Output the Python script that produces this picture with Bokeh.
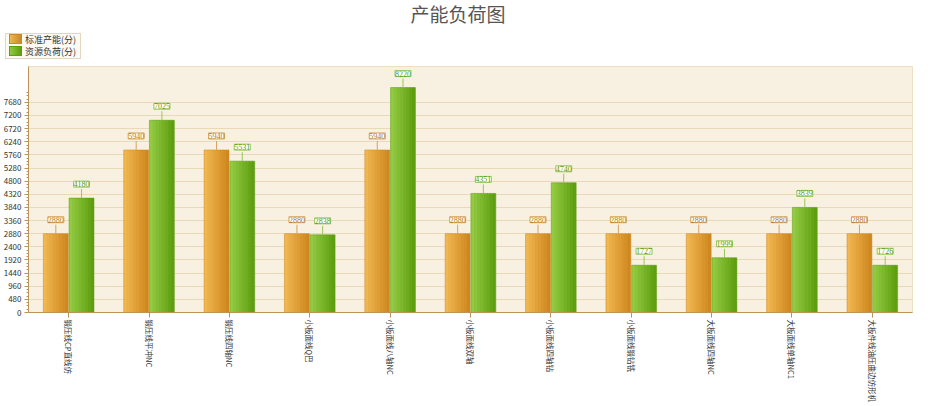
from math import pi
from bokeh.plotting import figure
from bokeh.layouts import column
from bokeh.models import ColumnDataSource, FactorRange, Range1d, FixedTicker, LabelSet, Div
from bokeh.transform import dodge
from bokeh.embed import file_html
from bokeh.resources import INLINE

machines = ["锻压线CP直线仿", "锻压线平冲NC", "锻压线四轴NC", "小板面线Q巴", "小板面线八轴NC",
            "小板面线双轴", "小板面线四轴钻", "小板面线锻钻铣", "大板面线四轴NC", "大板面线单轴NC1",
            "大板件线油压曲边仿形机"]
standard_hours = [2880, 5940, 5940, 2880, 5940, 2880, 2880, 2880, 2880, 2880, 2880]
load_hours = [4180, 7025, 5531, 2838, 8220, 4351, 4740, 1727, 1999, 3839, 1726]
y_ticks = [0, 480, 960, 1440, 1920, 2400, 2880, 3360, 3840, 4320, 4800,
           5280, 5760, 6240, 6720, 7200, 7680]
chart_title = "产能负荷图"

FONT = "Noto Sans CJK SC"
BAR_W = 0.31
OFFSET = 0.16
SLICES = 8


def mix(c1, c2, t):
    a = [int(c1[i:i + 2], 16) for i in (1, 3, 5)]
    b = [int(c2[i:i + 2], 16) for i in (1, 3, 5)]
    return "#%02x%02x%02x" % tuple(round(a[i] + (b[i] - a[i]) * t) for i in range(3))


source = ColumnDataSource(data=dict(
    machine=machines,
    std=standard_hours,
    load=load_hours,
    std_txt=[str(v) for v in standard_hours],
    load_txt=[str(v) for v in load_hours],
))

p = figure(width=916, height=338, x_range=FactorRange(factors=machines, range_padding=0),
           y_range=Range1d(0, 8990), output_backend="svg", toolbar_location=None,
           min_border_left=4, min_border_right=4, min_border_top=0, min_border_bottom=0)

p.background_fill_color = "#f8f0e1"
p.border_fill_color = "white"
p.outline_line_color = "#ecdfc4"

series = [
    ("std", "std_txt", -OFFSET, "#f0b64f", "#cf8820", "#d6a35a", "#b07a30", "标准产能(分)"),
    ("load", "load_txt", OFFSET, "#92ca42", "#5f9e10", "#96c75a", "#5a9a1a", "资源负荷(分)"),
]

legend_rows = ""
for key, txt, off, light, dark, box_col, txt_col, name in series:
    sw = BAR_W / SLICES
    for k in range(SLICES):
        # overlapping slices fake the left-to-right gradient of the bars
        last = k == SLICES - 1
        p.vbar(x=dodge("machine", off - BAR_W / 2 + (k + 0.5) * sw + (0 if last else 0.25 * sw),
                       range=p.x_range), top=key,
               width=sw * (1 if last else 1.5), source=source,
               fill_color=mix(light, dark, k / (SLICES - 1)), line_color=None)
    p.vbar(x=dodge("machine", off, range=p.x_range), top=key, width=BAR_W, source=source,
           fill_color=None, line_color=dark, line_alpha=0.5)
    p.ray(x=dodge("machine", off, range=p.x_range), y=key, length=9, length_units="screen",
          angle=pi / 2, source=source, line_color=box_col, line_width=1)
    labels = LabelSet(x=dodge("machine", off, range=p.x_range), y=key, text=txt, source=source,
                      y_offset=11, text_align="center", text_baseline="bottom",
                      text_font=FONT, text_font_size="8px", text_color=txt_col,
                      background_fill_color="#fffdf8", border_line_color=box_col,
                      border_line_width=1)
    p.add_layout(labels)
    legend_rows += (
        '<div style="height:12px;line-height:12px;white-space:nowrap">'
        '<span style="display:inline-block;width:13px;height:10px;margin-right:3px;'
        'vertical-align:-1px;border:1px solid %s;background:linear-gradient(to right,%s,%s)"></span>%s</div>'
        % (dark, light, dark, name))

header = Div(
    text=('<div style="position:relative;width:916px;height:66px;font-family:\'%s\'">'
          '<div style="position:absolute;top:4px;left:0;width:916px;text-align:center;'
          'font-size:19px;line-height:20px;color:#555">%s</div>'
          '<div style="position:absolute;top:33px;left:5px;padding:0 4px 0 3px;'
          'border:1px solid #e2d6bc;background:#fdfaf3;font-size:9px;color:#333">%s</div></div>')
    % (FONT, chart_title, legend_rows),
    width=916, height=66, margin=0)

p.yaxis.ticker = FixedTicker(ticks=y_ticks,
                             minor_ticks=[t + d for t in y_ticks for d in (120, 240, 360)])
p.ygrid.ticker = p.yaxis.ticker
p.ygrid.grid_line_color = "#ead9b8"
p.xgrid.grid_line_color = None

for ax in (p.xaxis, p.yaxis):
    ax.axis_line_color = "#b8935a"
    ax.major_tick_line_color = "#b8935a"
    ax.minor_tick_line_color = "#b8935a"
    ax.major_label_text_font = FONT
    ax.major_label_text_font_size = "8px"
    ax.major_label_text_color = "#333333"
    ax.major_tick_in = 0
    ax.major_tick_out = 4
    ax.minor_tick_in = 0
    ax.minor_tick_out = 2
    ax.major_label_standoff = 3

p.xaxis.major_label_orientation = -pi / 2
p.xaxis.major_label_text_font_size = "7.5px"
p.xaxis.major_tick_out = 5
p.xaxis.major_label_standoff = 2

layout = column(header, p, spacing=0)
open("out.html", "w").write(file_html(layout, INLINE))
